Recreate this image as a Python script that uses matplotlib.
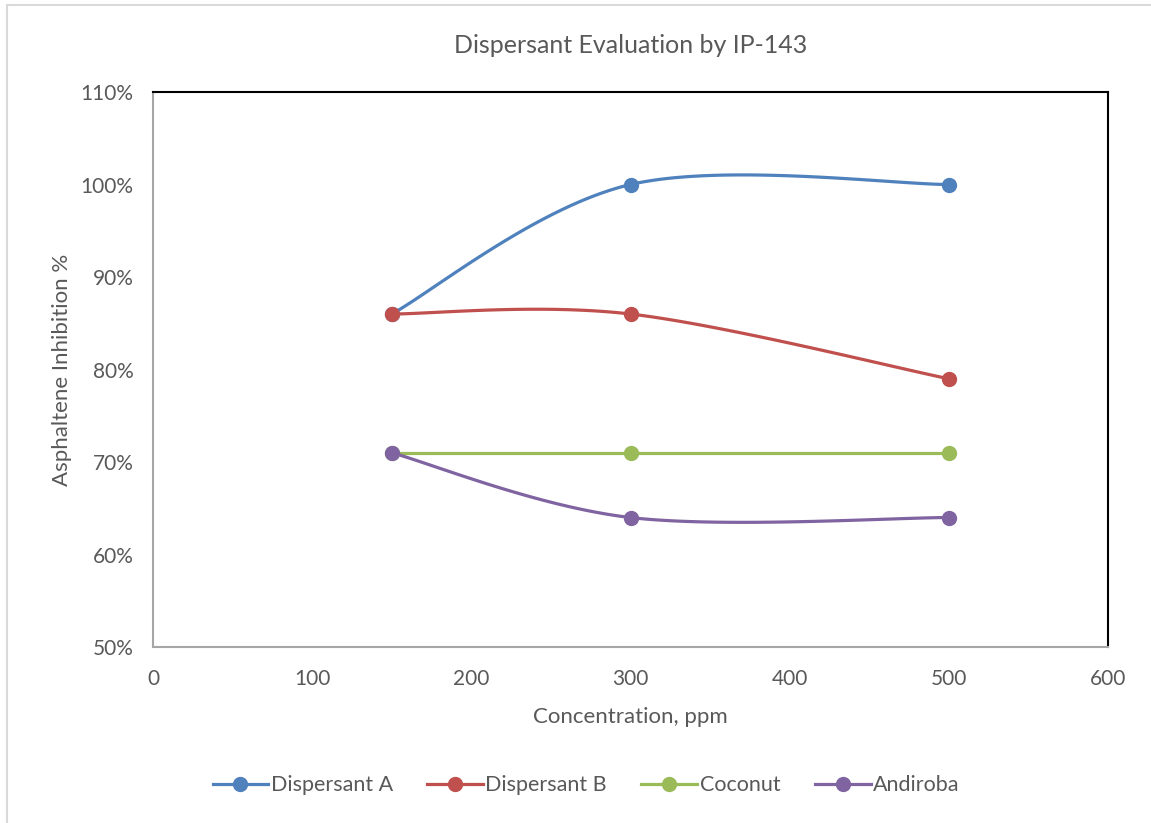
import numpy as np
import matplotlib.pyplot as plt
from matplotlib.patches import Rectangle

plt.rcParams['font.family'] = ['Lato', 'DejaVu Sans']

concentration = [150, 300, 500]
series_names = ["Dispersant A", "Dispersant B", "Coconut", "Andiroba"]
dispersant_a = [86, 100, 100]
dispersant_b = [86, 86, 79]
coconut = [71, 71, 71]
andiroba = [71, 64, 64]
colors = ["#4F81BD", "#C0504D", "#9BBB59", "#8064A2"]

text_color = "#595959"


def smooth(xs, ys, n=60):
    # Bezier smoothing like spreadsheet "smoothed line" (Catmull-Rom control points)
    pts = np.column_stack([xs, ys]).astype(float)
    out = [pts[:1]]
    for i in range(len(pts) - 1):
        p0 = pts[max(i - 1, 0)]
        p1 = pts[i]
        p2 = pts[i + 1]
        p3 = pts[min(i + 2, len(pts) - 1)]
        c1 = p1 + (p2 - p0) / 6.0
        c2 = p2 - (p3 - p1) / 6.0
        t = np.linspace(0, 1, n)[1:, None]
        seg = ((1 - t) ** 3) * p1 + 3 * ((1 - t) ** 2) * t * c1 \
            + 3 * (1 - t) * t ** 2 * c2 + t ** 3 * p2
        out.append(seg)
    curve = np.vstack(out)
    return curve[:, 0], curve[:, 1]


fig = plt.figure(figsize=(11.51, 8.23), dpi=100)
ax = fig.add_axes([0.1329, 0.2138, 0.8298, 0.6744])

# light chart-area frame
fig.patches.append(Rectangle((7 / 1151, -0.1), 1.2, 1 - 5 / 823 + 0.1,
                             transform=fig.transFigure, fill=False,
                             edgecolor="#d9d9d9", lw=1.5, zorder=0))

all_series = [dispersant_a, dispersant_b, coconut, andiroba]
for name, vals, col in zip(series_names, all_series, colors):
    sx, sy = smooth(concentration, vals)
    ax.plot(sx, sy, color=col, lw=2.3, solid_capstyle="round")
    ax.plot(concentration, vals, "o", color=col, ms=10, zorder=3)
    ax.plot([], [], "-o", color=col, lw=2.3, ms=10, label=name)

ax.set_xlim(0, 600)
ax.set_ylim(50, 110)
ax.set_xticks(range(0, 601, 100))
ax.set_yticks(range(50, 111, 10))
ax.set_yticklabels([f"{v}%" for v in range(50, 111, 10)])
ax.tick_params(length=0, labelsize=15, colors=text_color)
ax.tick_params(axis="x", pad=16)
ax.tick_params(axis="y", pad=14)

for side in ["left", "bottom"]:
    ax.spines[side].set_color("#a6a6a6")
    ax.spines[side].set_linewidth(1.5)
for side in ["top", "right"]:
    ax.spines[side].set_color("black")
    ax.spines[side].set_linewidth(1.5)

ax.set_title("Dispersant Evaluation by IP-143", fontsize=18, color=text_color, pad=28)
ax.set_xlabel("Concentration, ppm", fontsize=16, color=text_color, labelpad=13)
ax.set_ylabel("Asphaltene Inhibition %", fontsize=16, color=text_color, labelpad=6)

leg = fig.legend(loc="center", bbox_to_anchor=(0.509, 0.046), ncol=4, frameon=False,
                 fontsize=15.5, handlelength=2.6, columnspacing=1.6, handletextpad=0.1)
for t in leg.get_texts():
    t.set_color(text_color)

fig.savefig("out.png", dpi=100)
